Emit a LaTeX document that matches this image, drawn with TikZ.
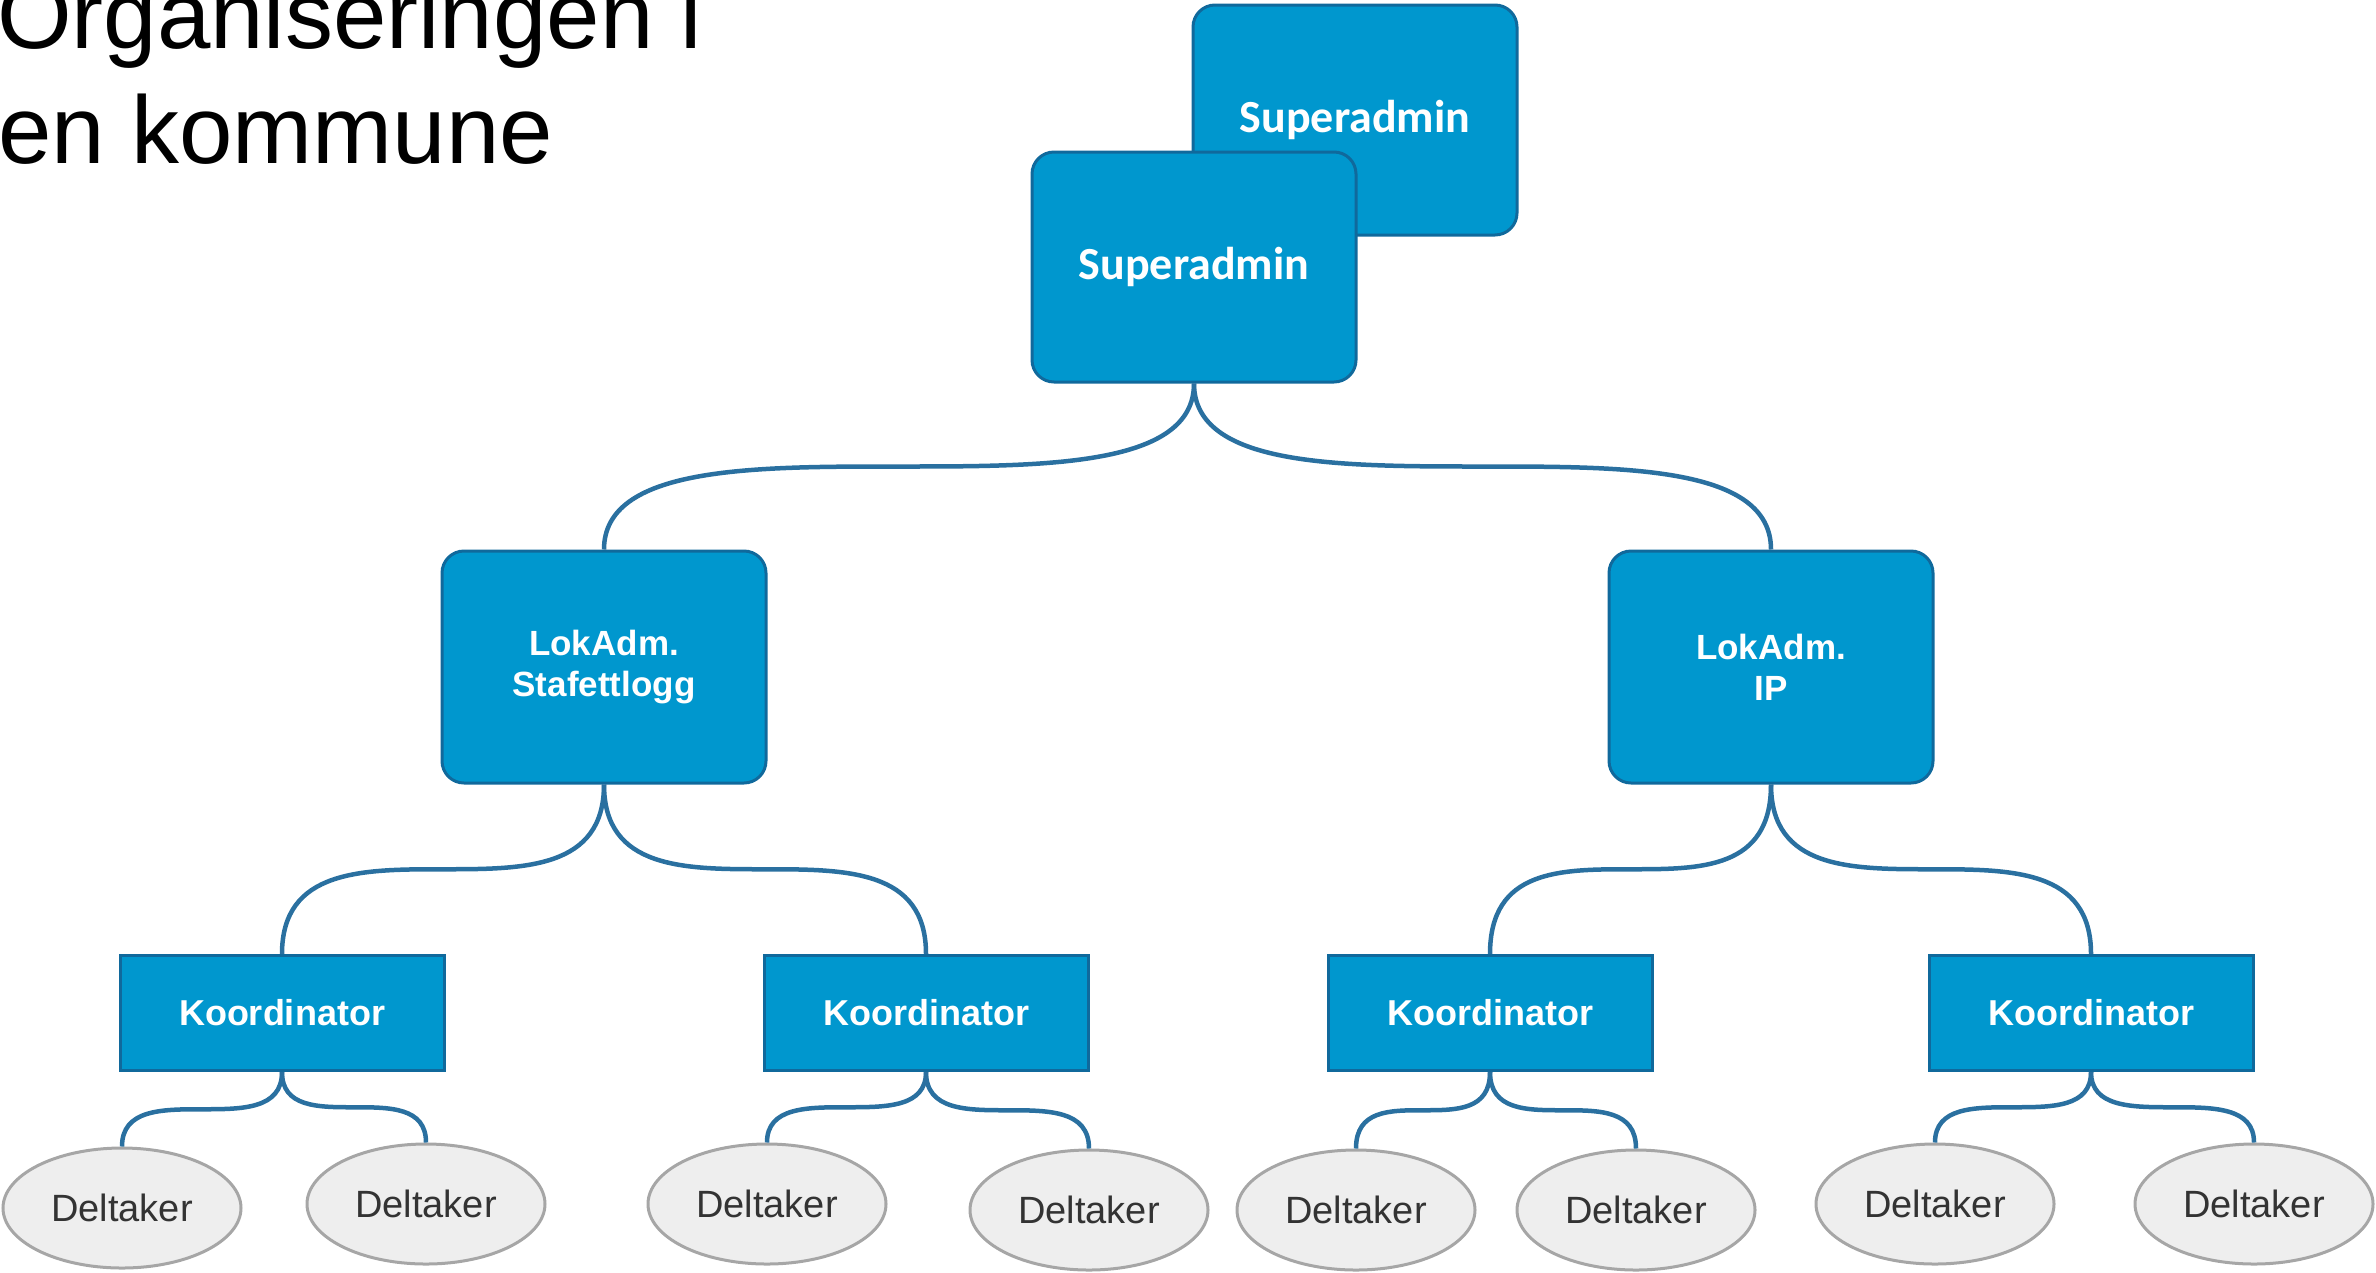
\documentclass[tikz,border=0pt]{standalone}
\usepackage{fontspec}
\setmainfont{Liberation Sans}
\newfontfamily\carl{Carlito}
\definecolor{boxfill}{HTML}{0097CE}
\definecolor{boxline}{HTML}{10699C}
\definecolor{connline}{HTML}{2A70A0}
\definecolor{elfill}{HTML}{EEEEEE}
\definecolor{elline}{HTML}{A6A6A6}
\definecolor{eltext}{HTML}{333333}
\usetikzlibrary{shapes.geometric}
\begin{document}
\begin{tikzpicture}[x=1pt,y=-1pt,
  sabox/.style={draw=boxline, fill=boxfill, line width=3pt, rounded corners=22pt,
    minimum width=324pt, minimum height=230pt, text=white, inner sep=0pt,
    font=\carl\bfseries\fontsize{46}{50}\selectfont},
  lokbox/.style={draw=boxline, fill=boxfill, line width=3pt, rounded corners=22pt,
    minimum width=324pt, minimum height=232pt, text=white, inner sep=0pt, align=center,
    font=\bfseries\fontsize{35}{41}\selectfont},
  koordbox/.style={draw=boxline, fill=boxfill, line width=3pt,
    minimum width=324pt, minimum height=115pt, text=white, inner sep=0pt,
    font=\bfseries\fontsize{36}{40}\selectfont},
  delt/.style={ellipse, draw=elline, fill=elfill, line width=3pt,
    minimum width=238pt, minimum height=120pt, text=eltext, inner sep=0pt,
    font=\fontsize{38}{42}\selectfont},
  conn/.style={draw=connline, line width=4.5pt},
  titletext/.style={anchor=base west, inner sep=0pt, font=\fontsize{96}{117}\selectfont}
]
\useasboundingbox (0,0) rectangle (2376,1272);

\node[titletext] (t1) at (-3,48) {Organiseringen i};
\node[titletext] (t2) at (-2,163) {en kommune};

\node[sabox] (saback) at (1355,120) {Superadmin};
\node[sabox] (sa) at (1194,267) {Superadmin};

\node[lokbox] (l1) at (604,667) {LokAdm.\\Stafettlogg};
\node[lokbox] (l2) at (1771,667) {LokAdm.\\IP};

\node[koordbox] (k1) at (282,1013) {Koordinator};
\node[koordbox] (k2) at (926,1013) {Koordinator};
\node[koordbox] (k3) at (1490,1013) {Koordinator};
\node[koordbox] (k4) at (2091,1013) {Koordinator};

\node[delt] (d1) at (122,1208) {Deltaker};
\node[delt] (d2) at (426,1204) {Deltaker};
\node[delt] (d3) at (767,1204) {Deltaker};
\node[delt] (d4) at (1089,1210) {Deltaker};
\node[delt] (d5) at (1356,1210) {Deltaker};
\node[delt] (d6) at (1636,1210) {Deltaker};
\node[delt] (d7) at (1935,1204) {Deltaker};
\node[delt] (d8) at (2254,1204) {Deltaker};

\foreach \p/\c in {sa/l1, sa/l2, l1/k1, l1/k2, l2/k3, l2/k4,
                   k1/d1, k1/d2, k2/d3, k2/d4, k3/d5, k3/d6, k4/d7, k4/d8}{
  \draw[conn] (\p.south) .. controls (\p.south |- \c.north) and (\c.north |- \p.south) .. (\c.north);
}
\end{tikzpicture}
\end{document}
